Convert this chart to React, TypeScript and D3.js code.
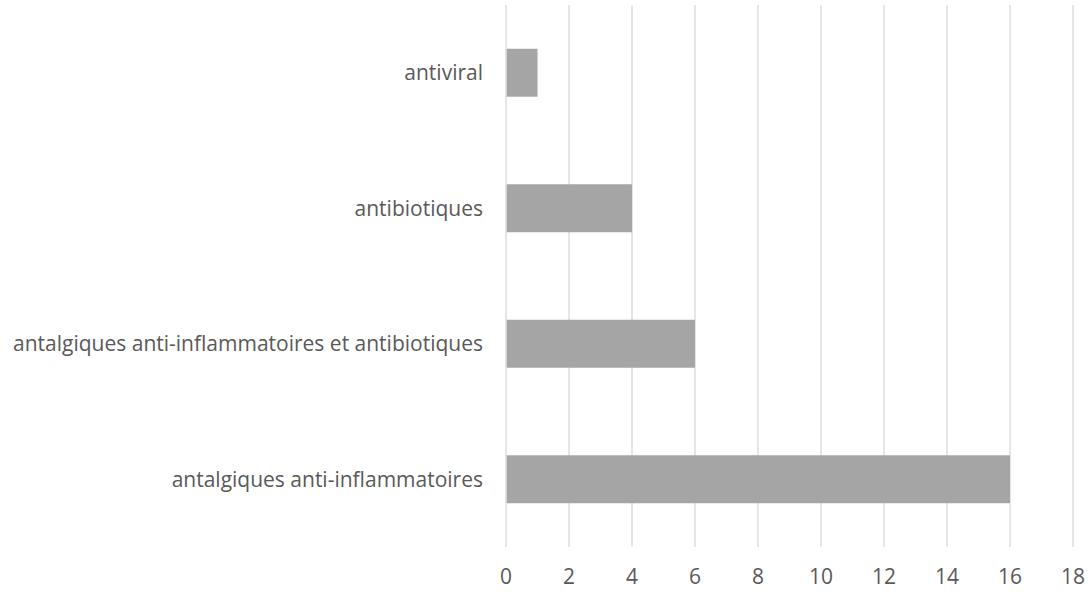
import React from 'react';
import * as d3 from 'd3';

// horizontal bar chart, Excel-style
const categories = [
  'antiviral',
  'antibiotiques',
  'antalgiques anti-inflammatoires et antibiotiques',
  'antalgiques anti-inflammatoires',
];
const values = [1, 4, 6, 16];
const ticks = [0, 2, 4, 6, 8, 10, 12, 14, 16, 18];

const width = 1091;
const height = 592;
const margin = { top: 5, right: 18, bottom: 45, left: 506 };

export default function App() {
  const x = d3.scaleLinear()
    .domain([0, 18])
    .range([margin.left, width - margin.right]);

  const y = d3.scaleBand()
    .domain(categories)
    .range([margin.top, height - margin.bottom])
    .paddingInner(0.646)
    .paddingOuter(0.323);

  const font = "'Open Sans', sans-serif";

  return (
    <svg width={width} height={height} style={{ position: 'absolute', left: 0, top: 0 }}>
      <g>
        {ticks.map(t => (
          <line key={t} x1={x(t)} x2={x(t)} y1={margin.top} y2={height - margin.bottom}
            stroke="#d9d9d9" strokeWidth={1.3} />
        ))}
      </g>
      <g fill="#a5a5a5">
        {categories.map((c, i) => (
          <rect key={c} x={x(0) + 0.7} y={y(c)} width={x(values[i]) - x(0) - 0.7} height={y.bandwidth()} />
        ))}
      </g>
      <g fill="#595959" fontFamily={font} fontSize={21}>
        {categories.map(c => (
          <text key={c} x={x(0) - 23} y={(y(c) ?? 0) + y.bandwidth() / 2} dy="0.35em" textAnchor="end">{c}</text>
        ))}
        {ticks.map(t => (
          <text key={t} x={x(t)} y={584} textAnchor="middle">{t}</text>
        ))}
      </g>
    </svg>
  );
}
